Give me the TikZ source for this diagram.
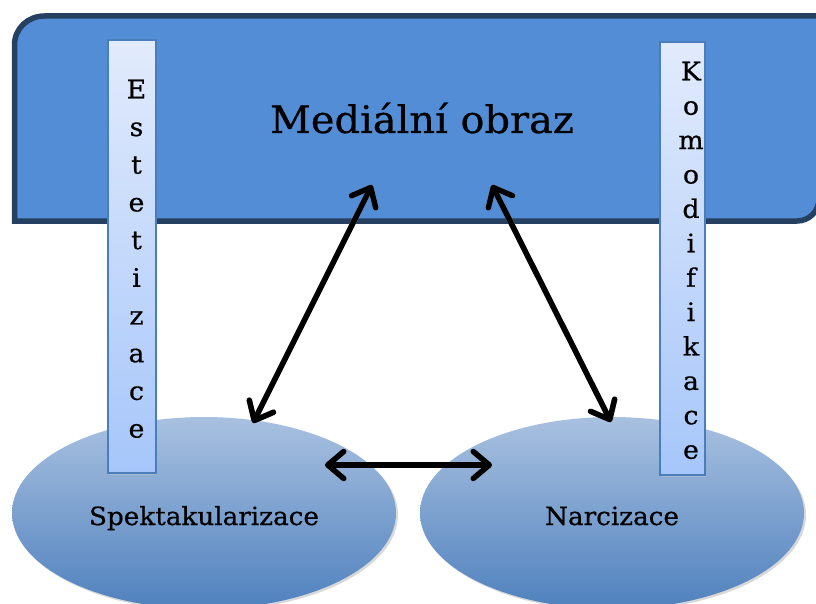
\documentclass[tikz,border=0pt]{standalone}
\usepackage{fontspec}
\setmainfont{DejaVu Serif}[FakeStretch=1.05,FakeBold=0.6]
\usetikzlibrary{shapes.geometric,arrows.meta,shadows}
\definecolor{navy}{RGB}{38,64,97}
\definecolor{mainblue}{RGB}{83,141,213}
\definecolor{barborder}{RGB}{74,126,187}
\definecolor{bartop}{RGB}{226,235,252}
\definecolor{barbottom}{RGB}{166,198,250}
\definecolor{elltop}{RGB}{169,193,224}
\definecolor{ellbottom}{RGB}{79,129,190}
\begin{document}
\begin{tikzpicture}[x=1pt,y=-1pt,
  mainshape/.style={draw=navy, line width=5.5pt, fill=mainblue},
  barbox/.style={rectangle, draw=barborder, line width=1.5pt, top color=bartop, bottom color=barbottom, inner sep=0pt,
    drop shadow={shadow xshift=1pt, shadow yshift=-1.5pt, fill=gray!45}},
  ellbox/.style={ellipse, top color=elltop, bottom color=ellbottom, minimum width=384pt, minimum height=192pt,
    text height=30pt, text depth=6pt, inner sep=0pt, font=\fontsize{25}{28}\selectfont,
    drop shadow={shadow xshift=2pt, shadow yshift=-2pt, fill=gray!60}},
  bartext/.style={align=center, anchor=north, inner sep=0pt},
  dblarrow/.style={line width=5.5pt, line cap=round, line join=round,
    {Straight Barb[length=16pt,width=27pt,round]}-{Straight Barb[length=16pt,width=27pt,round]}},
  arrowshadow/.style={dblarrow, draw=gray!60}
]
\useasboundingbox (0,0) rectangle (816,604);
\clip (0,0) rectangle (816,604);

% main rounded-diagonal-corner rectangle
\path[mainshape] (14.5,221) -- (14.5,45) .. controls (14.5,28.4) and (27.9,16) .. (44.5,16)
  -- (819,16) -- (819,199) .. controls (819,211.15) and (809.15,221) .. (797,221) -- cycle;
\node[anchor=base, inner sep=0pt, font=\fontsize{38}{40}\selectfont] (medtxt) at (422,133) {Mediální obraz};

% ellipses
\node[ellbox] (spek) at (204,513) {Spektakularizace};
\node[ellbox] (narc) at (612,513) {Narcizace};

% vertical bars
\node[barbox, minimum width=48pt, minimum height=433pt] (estbar) at (132,256.5) {};
\node[barbox, minimum width=45pt, minimum height=433pt] (kombar) at (682.5,258.5) {};
\node[bartext, font=\fontsize{25.5}{37.7}\selectfont] (esttxt) at (136.5,79.5) {E\\s\\t\\e\\t\\i\\z\\a\\c\\e};
\node[bartext, font=\fontsize{25.5}{34.4}\selectfont] (komtxt) at (691,61.5) {K\\o\\m\\o\\d\\i\\f\\i\\k\\a\\c\\e};

% arrow end points
\coordinate (a1s) at (253,423);
\coordinate (a1e) at (372,185);
\coordinate (a2s) at (492,185);
\coordinate (a2e) at (611,422);
\coordinate (a3s) at (325,465);
\coordinate (a3e) at (492,465);

\begin{scope}[xshift=1.5pt, yshift=-1.5pt]
\draw[arrowshadow] (a1s) -- (a1e);
\draw[arrowshadow] (a2s) -- (a2e);
\draw[arrowshadow] (a3s) -- (a3e);
\end{scope}
\draw[dblarrow] (a1s) -- (a1e);
\draw[dblarrow] (a2s) -- (a2e);
\draw[dblarrow] (a3s) -- (a3e);
\end{tikzpicture}
\end{document}
